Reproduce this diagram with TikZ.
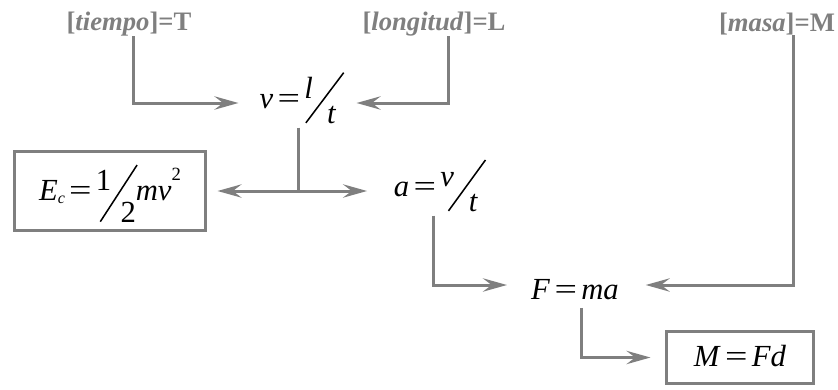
\documentclass[tikz,border=0pt]{standalone}
\usepackage{fontspec}
\setmainfont{Liberation Serif}
\usepackage{graphicx}
\usetikzlibrary{arrows.meta}
\definecolor{lg}{HTML}{7F7F7F}
\newcommand{\eqs}{\kern0.14em\scalebox{1.3}[1]{=}\kern0.14em}
\newcommand{\slfr}[6]{\raisebox{0.3em}{#1}\kern#3\raisebox{-#4}{\rotatebox{#5}{\rule{#6}{0.05em}}}\kern-0.56em\raisebox{-#4}{#2}}
\begin{document}
\begin{tikzpicture}[x=0.75pt,y=-0.75pt,
  lab/.style={font=\fontsize{20}{24}\selectfont\bfseries, text=lg, inner sep=0pt},
  fm/.style={font=\fontsize{23}{27}\selectfont, inner xsep=0pt, inner ysep=11pt, text height=11pt, text depth=3.5pt},
  bx/.style={draw=lg, line width=2.25pt, inner sep=0pt, font=\fontsize{23}{27}\selectfont, text height=15pt, text depth=1.5pt},
  ln/.style={draw=lg, line width=2.25pt},
  conn/.style={ln, -{Stealth[length=18pt,width=10pt,inset=6.5pt]}}]
\useasboundingbox (0,0) rectangle (838,389);
\node[lab] (tiempo) at (129,24) {[\textit{tiempo}\/]=T};
\node[lab] (longitud) at (434,24) {[\textit{longitud}\/]=L};
\node[lab] (masa) at (777,24) {[\textit{masa}\/]=M};
\node[fm] (vel) at (298,103) {\textit{v}\eqs\slfr{\textit{l}}{\textit{t}}{-0.25em}{0.5em}{53}{2.05em}};
\node[fm] (acc) at (436,191) {\textit{a}\eqs\slfr{\textit{v}}{\textit{t}}{-0.2em}{0.5em}{54}{2.05em}};
\node[fm, text height=24pt, text depth=2pt, inner ysep=4pt] (fma) at (575,285) {\textit{F}\eqs\textit{ma}};
\node[bx, minimum width=143pt, minimum height=59pt] (ec) at (110,191) {\textit{E}\raisebox{-0.12em}{\fontsize{12}{12}\selectfont\textit{c}}\eqs\slfr{1}{2}{-0.38em}{0.72em}{57}{2.2em}\textit{mv}\raisebox{0.62em}{\fontsize{14}{14}\selectfont 2}};
\node[bx, minimum width=110pt, minimum height=39pt] (mfd) at (740,357.5) {\textit{M}\eqs\textit{Fd}};
\coordinate (j1) at (vel.south |- ec.east);
\draw[conn, shorten >=15.75pt] ([xshift=3pt]tiempo.south) |- (vel.west);
\draw[conn, shorten >=15pt] ([xshift=11pt]longitud.south) |- (vel.east);
\draw[ln] (vel.south) -- (j1);
\draw[conn, shorten >=8pt] (j1) -- (ec.east);
\draw[conn, shorten >=20pt] (j1) -- (acc.west);
\draw[conn, shorten >=18pt] ([xshift=-2pt]acc.south) |- (fma.west);
\draw[conn, shorten >=20pt] ([xshift=12.5pt]masa.south) |- (fma.east);
\draw[conn, shorten >=11pt] ([xshift=5pt]fma.south) |- (mfd.west);
\end{tikzpicture}
\end{document}
